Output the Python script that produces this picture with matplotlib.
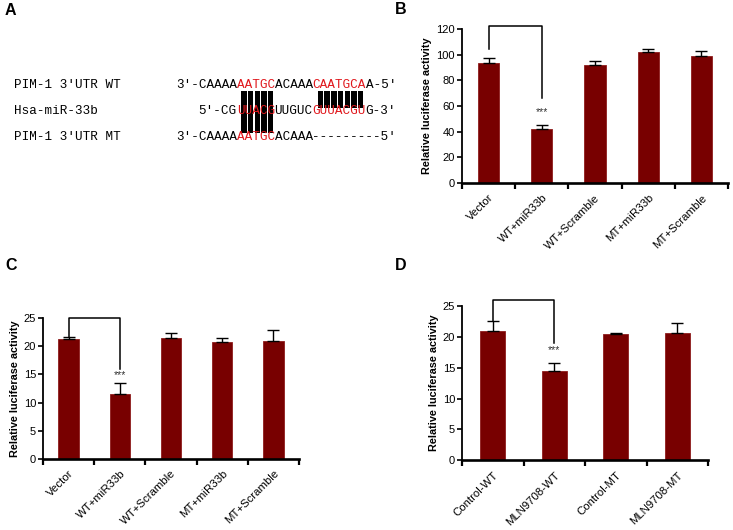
import matplotlib
matplotlib.use("Agg")
import matplotlib.pyplot as plt
import matplotlib.transforms as mtransforms
import numpy as np

plt.rcParams['font.family'] = ['Liberation Sans', 'DejaVu Sans']

# ---------------- data ----------------
b_labels = ["Vector", "WT+miR33b", "WT+Scramble", "MT+miR33b", "MT+Scramble"]
b_means = [93.4, 42.0, 91.6, 101.7, 98.6]
b_err = [3.9, 3.1, 3.1, 2.4, 3.9]
b_yticks = [0, 20, 40, 60, 80, 100, 120]

c_labels = ["Vector", "WT+miR33b", "WT+Scramble", "MT+miR33b", "MT+Scramble"]
c_means = [21.3, 11.6, 21.5, 20.8, 21.0]
c_err = [0.4, 1.8, 0.8, 0.7, 2.0]
c_yticks = [0, 5, 10, 15, 20, 25]

d_labels = ["Control-WT", "MLN9708-WT", "Control-MT", "MLN9708-MT"]
d_means = [20.95, 14.4, 20.4, 20.6]
d_err = [1.55, 1.3, 0.2, 1.6]
d_yticks = [0, 5, 10, 15, 20, 25]

# sequence panel (segments: text, is_red)
row_labels = ["PIM-1 3'UTR WT", "Hsa-miR-33b", "PIM-1 3'UTR MT"]
wt_segments = [("3'-CAAAA", False), ("AATGC", True), ("ACAAA", False), ("CAATGCA", True), ("A-5'", False)]
mir_segments = [("5'-CG", False), ("UUACG", True), ("UUGUC", False), ("GUUACGU", True), ("G-3'", False)]
mt_segments = [("3'-CAAAA", False), ("AATGC", True), ("ACAAA", False), ("---------5'", False)]

BAR_COLOR = "#780000"

W, H = 733, 530
fig = plt.figure(figsize=(W / 100, H / 100), dpi=100)

# overlay axes in pixel coordinates
ov = fig.add_axes([0, 0, 1, 1])
ov.set_xlim(0, W)
ov.set_ylim(H, 0)
ov.axis('off')
ov.set_zorder(5)
ov.patch.set_alpha(0)

# panel letters
for letter, (x, y) in zip("ABCD", [(10.5, 10.5), (401, 9), (11, 266), (401, 265)]):
    ov.text(x, y, letter, fontsize=11.5, fontweight='bold', ha='center', va='center')

# ---- panel A ----
mono_fs = 9.1
charw = 0.6 * mono_fs * 100 / 72
red = "#e0161b"
row_y = [85.5, 111.5, 136.5]
lab_x = 14
seq_x0 = 176

for lab, y in zip(row_labels, row_y):
    ov.text(lab_x, y, lab, family='Liberation Mono', fontsize=mono_fs, ha='left', va='center', zorder=3)


def draw_segments(segs, x0, y):
    idx = 0
    spans = []
    for s, isred in segs:
        ov.text(x0 + idx * charw, y, s, family='Liberation Mono', fontsize=mono_fs,
                color=red if isred else 'black', ha='left', va='center', zorder=3)
        spans.append((idx, len(s), isred))
        idx += len(s)
    return spans


wt_spans = draw_segments(wt_segments, seq_x0, row_y[0])
draw_segments(mir_segments, seq_x0 + 3 * charw, row_y[1])
draw_segments(mt_segments, seq_x0, row_y[2])

# base-pairing bars
red_groups = [sp for sp in wt_spans if sp[2]]
for gi, (start, n, _) in enumerate(red_groups):
    x_start = seq_x0 + start * charw
    pitch = charw * 0.88
    x_first = x_start + 0.6 * charw if gi == 0 else x_start + 0.7 * charw
    y_top = 90.7
    y_bot = 133 if gi == 0 else 108.3
    for i in range(n):
        ov.add_patch(plt.Rectangle((x_first + i * pitch, y_top), pitch * 0.82, y_bot - y_top,
                                   color='black', zorder=2, lw=0))


# ---- bar panels ----
def bar_panel(rect_px, labels, means, errs, yticks, ylim, bracket, star_y):
    left, right, top, bottom = rect_px
    ax = fig.add_axes([left / W, 1 - bottom / H, (right - left) / W, (bottom - top) / H])
    n = len(labels)
    x = np.arange(n)
    ax.bar(x, means, width=0.4, color=BAR_COLOR, edgecolor='#8e1c1c', linewidth=0.6, zorder=2)
    ax.errorbar(x, means, yerr=[np.zeros(n), errs], fmt='none', ecolor='black',
                elinewidth=1.0, capsize=4.3, capthick=1.0, zorder=3)
    ax.set_xlim(-0.5, n - 0.5)
    ax.set_ylim(*ylim)
    ax.set_yticks(yticks)
    ax.set_xticks(x)
    ax.set_xticklabels(labels, rotation=45, ha='right', rotation_mode='anchor', fontsize=8.2)
    offset = mtransforms.ScaledTranslation(-4 / 100, 0, fig.dpi_scale_trans)
    for lab in ax.get_xticklabels():
        lab.set_transform(lab.get_transform() + offset)
    ax.set_xticks(np.arange(n + 1) - 0.5, minor=True)
    ax.tick_params(axis='x', which='major', length=0, pad=7)
    ax.tick_params(axis='x', which='minor', length=4.5, width=1.6, direction='out')
    ax.tick_params(axis='y', which='major', length=3.5, width=1.2, labelsize=8, pad=1.5)
    for s in ['top', 'right']:
        ax.spines[s].set_visible(False)
    ax.spines['left'].set_linewidth(1.3)
    ax.spines['bottom'].set_linewidth(1.9)
    ax.set_ylabel("Relative luciferase activity", fontweight='bold', fontsize=7.8, labelpad=3)
    # significance bracket
    lb, tp, rb = bracket
    ax.plot([0, 0, 1, 1], [lb, tp, tp, rb], color='black', lw=1.1, clip_on=False, zorder=4)
    ax.text(1, star_y, "***", ha='center', va='center', fontsize=7.5, color='#333333')
    return ax


bar_panel((462, 728, 29, 183), b_labels, b_means, b_err, b_yticks, (0, 120),
          (104.3, 122.0, 66.0), 55.0)
bar_panel((43, 299, 318.3, 458.7), c_labels, c_means, c_err, c_yticks, (0, 25),
          (21.7, 25.1, 16.0), 14.9)
bar_panel((462, 708, 306, 460.3), d_labels, d_means, d_err, d_yticks, (0, 25),
          (22.5, 25.9, 19.0), 17.8)

fig.savefig("out.png", dpi=100)
